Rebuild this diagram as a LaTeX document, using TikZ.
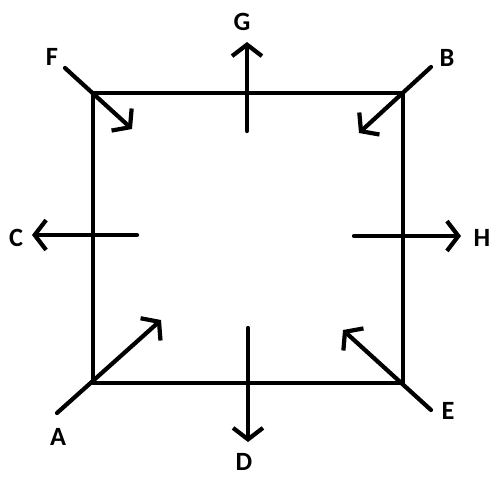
\documentclass[tikz,border=0pt]{standalone}
\usepackage{fontspec}
\setmainfont{Carlito}
\usetikzlibrary{arrows.meta}
\tikzset{
  edge/.style={line width=2.4pt,line cap=round,line join=round},
  move/.style={edge,-{Straight Barb[length=6.5pt,width=17pt,line width=2.4pt]}},
  tag/.style={font=\fontsize{15}{18}\selectfont\bfseries,inner sep=0pt}
}
\begin{document}
\begin{tikzpicture}[x=0.02cm,y=-0.02cm]
  \useasboundingbox (0,0) rectangle (492,477);
  % square
  \coordinate (nw) at (93,93);
  \coordinate (ne) at (403,93);
  \coordinate (sw) at (93,383);
  \coordinate (se) at (403,383);
  \draw[edge] (nw) -- (ne) -- (se) -- (sw) -- cycle;
  % labels
  \node[tag] (F) at (52,57) {F};
  \node[tag] (G) at (242,22) {G};
  \node[tag] (B) at (447,58) {B};
  \node[tag] (C) at (16,238) {C};
  \node[tag] (H) at (482,238) {H};
  \node[tag] (A) at (58,437) {A};
  \node[tag] (D) at (244,462) {D};
  \node[tag] (E) at (448,411) {E};
  % arrow ends
  \coordinate (f0) at (65,68);   \coordinate (f1) at (132,129);
  \coordinate (g0) at (247,131); \coordinate (g1) at (247,42);
  \coordinate (b0) at (431,67);  \coordinate (b1) at (359,133);
  \coordinate (c0) at (137,235); \coordinate (c1) at (32,235);
  \coordinate (h0) at (354,236); \coordinate (h1) at (461,236);
  \coordinate (a0) at (57,413);  \coordinate (a1) at (161,320);
  \coordinate (d0) at (248,328); \coordinate (d1) at (248,442);
  \coordinate (e0) at (431,410); \coordinate (e1) at (343,330);
  \foreach \p in {f,g,b,c,h,a,d,e}
    \draw[move] (\p0) -- (\p1);
\end{tikzpicture}
\end{document}
